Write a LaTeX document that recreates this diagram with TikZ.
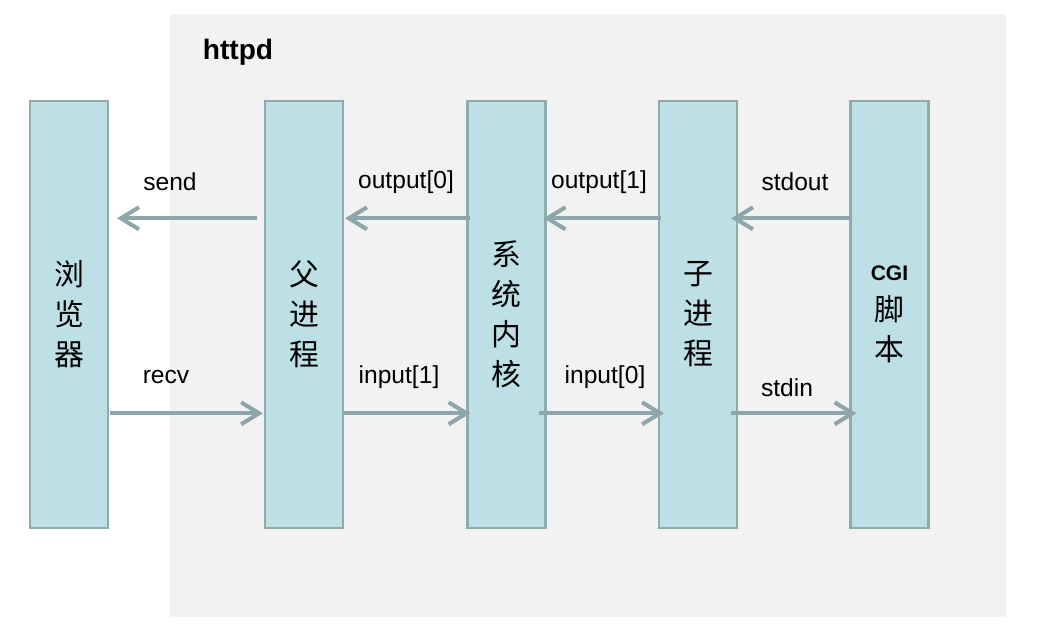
\documentclass[tikz,border=0pt]{standalone}
\usepackage{fontspec}
\setmainfont{Liberation Sans}
\newfontfamily\cjk{Noto Sans CJK SC}
\usetikzlibrary{arrows.meta}
\definecolor{boxfill}{HTML}{BCE0E4}
\definecolor{boxline}{HTML}{8EABAE}
\definecolor{flowline}{HTML}{8CA6A9}
\definecolor{panel}{HTML}{F2F2F2}
\begin{document}
\begin{tikzpicture}[x=0.02cm,y=-0.02cm,
    proc/.style={draw=boxline,line width=1.2pt,fill=boxfill,minimum width=1.56cm,minimum height=8.54cm,inner sep=0pt,align=center,font=\cjk\fontsize{17}{22.8}\selectfont},
    flow/.style={draw=flowline,line width=2.3pt,-{Straight Barb[length=0.36cm,width=0.44cm]}},
    lbl/.style={font=\fontsize{14}{16}\selectfont}]
    \useasboundingbox (0,0) rectangle (1038,642);
    \fill[panel] (170,14) rectangle (1006,617);
    \node[font=\bfseries\fontsize{16}{18}\selectfont] (httpd) at (238,52) {httpd};
    % processes
    \node[proc] (browser) at (69,314.5) {浏\\览\\器};
    \node[proc] (parent) at (304,314.5) {父\\进\\程};
    \node[proc] (kernel) at (506.5,314.5) {系\\统\\内\\核};
    \node[proc] (child) at (698,314.5) {子\\进\\程};
    \node[proc] (cgi) at (889.5,314.5) {{\rmfamily\bfseries\fontsize{12}{14}\selectfont CGI}\\脚\\本};
    % output direction
    \draw[flow] ([shift={(-7,-96.2)}]parent.west) -- ([shift={(8,-96.2)}]browser.east);
    \draw[flow] ([shift={(4,-96.2)}]kernel.west) -- ([shift={(1,-96.2)}]parent.east);
    \draw[flow] ([shift={(3,-96.2)}]child.west) -- ([shift={(-3,-96.2)}]kernel.east);
    \draw[flow] ([shift={(0,-96.2)}]cgi.west) -- ([shift={(-7,-96.2)}]child.east);
    % input direction
    \draw[flow] ([shift={(1,98.8)}]browser.east) -- ([shift={(-1,98.8)}]parent.west);
    \draw[flow] ([shift={(0,98.8)}]parent.east) -- ([shift={(4,98.8)}]kernel.west);
    \draw[flow] ([shift={(-8,98.8)}]kernel.east) -- ([shift={(6,98.8)}]child.west);
    \draw[flow] ([shift={(-7,98.8)}]child.east) -- ([shift={(7,98.8)}]cgi.west);
    % labels
    \node[lbl] (send) at (170,182) {send};
    \node[lbl] (out0) at (406,182) {output[0]};
    \node[lbl] (out1) at (599,182) {output[1]};
    \node[lbl] (stdout) at (795,182) {stdout};
    \node[lbl] (recv) at (166,377) {recv};
    \node[lbl] (in1) at (399,377) {input[1]};
    \node[lbl] (in0) at (605,377) {input[0]};
    \node[lbl] (stdin) at (787,388) {stdin};
\end{tikzpicture}
\end{document}
